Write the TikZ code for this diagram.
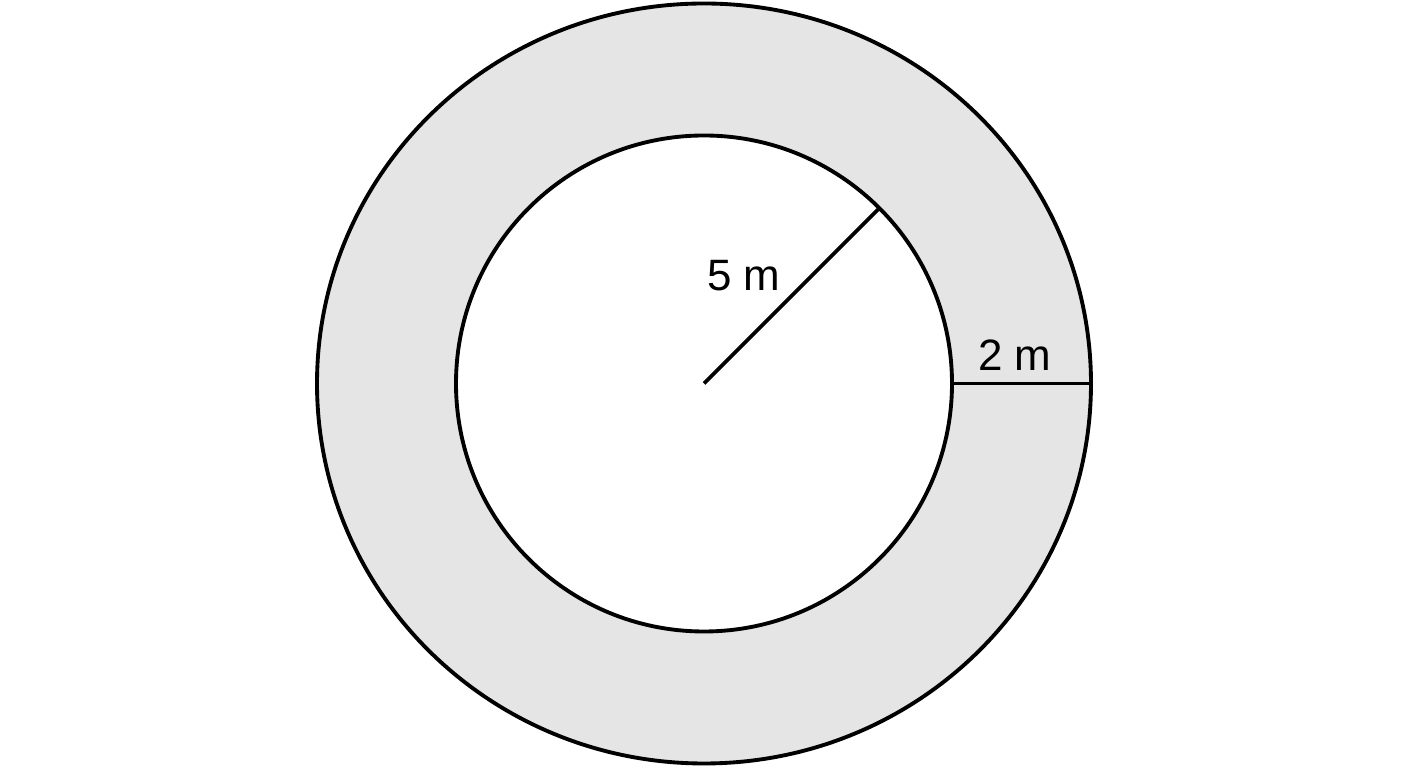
\documentclass[tikz,border=0pt]{standalone}
\usepackage{fontspec}
\setmainfont{Liberation Sans}
\usepackage{tikz}
\usetikzlibrary{calc}

\begin{document}
\begin{tikzpicture}[line width=1.1pt]
	\useasboundingbox (0,0) rectangle (14.08,7.68);
	\coordinate (O) at (7.04,3.845);
	\fill[gray!20] (O) ellipse [x radius=3.87,y radius=3.80];
	\fill[white] (O) circle (2.48);
	\draw (O) ellipse [x radius=3.87,y radius=3.80];
	\draw (O) circle (2.48);
	\coordinate (P) at ($(O)+(45:2.48)$);
	\coordinate (A) at ($(O)+(2.48,0)$);
	\coordinate (B) at ($(O)+(3.87,0)$);
	\draw (O)--(P);
	\draw (A)--(B);
	\node[font=\fontsize{12.5}{14}\selectfont] (r5) at (7.44,4.92) {5 m};
	\node[font=\fontsize{12.5}{14}\selectfont] (w2) at (10.15,4.13) {2 m};
\end{tikzpicture}
\end{document}
